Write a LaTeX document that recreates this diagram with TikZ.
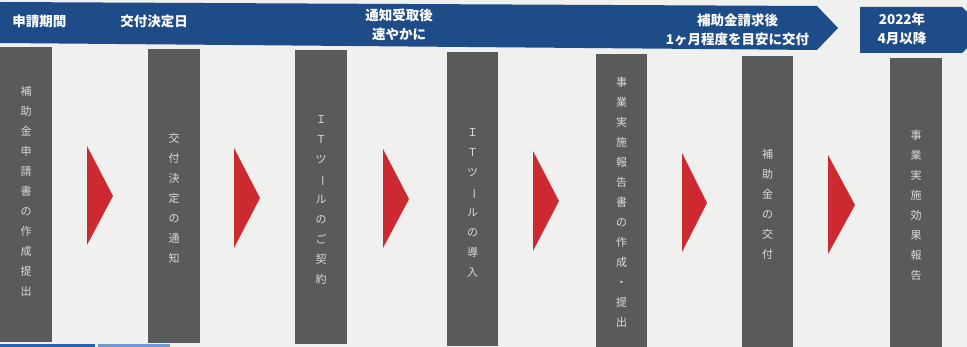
\documentclass[tikz,border=0pt]{standalone}
\usepackage{fontspec}
\newfontfamily\cjk{Noto Sans CJK JP}
\definecolor{bgpaper}{HTML}{F0F0EE}
\definecolor{bannerblue}{HTML}{1E4C88}
\definecolor{colgray}{HTML}{595B5A}
\definecolor{arrowred}{HTML}{CC2A30}
\definecolor{coltext}{HTML}{DADAD8}
\definecolor{stripblue}{HTML}{2A62A8}
\definecolor{stripblue2}{HTML}{6A9AD0}
\newcommand\vbar{\rotatebox[origin=c]{-90}{ー}}
\begin{document}
\begin{tikzpicture}[x=1pt,y=-1pt,
  colbox/.style={fill=colgray,draw=none,minimum width=52pt,inner sep=0pt},
  coltxt/.style={text=coltext,font=\cjk\fontsize{11}{20}\selectfont,align=center,inner sep=0pt},
  headtxt/.style={text=white,font=\cjk\bfseries\fontsize{13.5}{19}\selectfont,align=center,inner sep=0pt},
  redtri/.style={fill=arrowred,draw=none}]
\useasboundingbox (0,0) rectangle (967,347);
\fill[bgpaper] (0,0) rectangle (967,347);
\begin{scope}
\clip (0,0) rectangle (967,347);
% banners
\fill[bannerblue] (0,2) -- (817,6) -- (838,28) -- (817,50) -- (0,43) -- cycle;
\fill[bannerblue] (860,7) -- (962,7) -- (985,30) -- (962,53) -- (860,53) -- cycle;
\node[headtxt] (h1) at (39.5,21) {申請期間};
\node[headtxt] (h2) at (154,21) {交付決定日};
\node[headtxt] (h3) at (399,24.5) {通知受取後\\速やかに};
\node[headtxt] (h4) at (737.5,29.5) {補助金請求後\\1ヶ月程度を目安に交付};
\node[headtxt] (h5) at (902,28.5) {2022年\\4月以降};
% columns
\node[colbox,minimum height=295pt] (c1) at (26,194.5) {};
\node[colbox,minimum height=294pt] (c2) at (174,196) {};
\node[colbox,minimum height=294pt] (c3) at (321,197) {};
\node[colbox,minimum height=294pt,minimum width=51pt] (c4) at (472.5,199.5) {};
\node[colbox,minimum height=294pt,minimum width=51pt] (c5) at (621.5,201.5) {};
\node[colbox,minimum height=294pt,minimum width=51pt] (c6) at (767.5,203.5) {};
\node[colbox,minimum height=294pt] (c7) at (916,205) {};
% column texts
\node[coltxt] (t1) at (26,191) {補\\助\\金\\申\\請\\書\\の\\作\\成\\提\\出};
\node[coltxt] (t2) at (174,198) {交\\付\\決\\定\\の\\通\\知};
\node[coltxt] (t3) at (321,200) {Ｉ\\Ｔ\\ツ\\\vbar\\ル\\の\\ご\\契\\約};
\node[coltxt] (t4) at (472.5,203) {Ｉ\\Ｔ\\ツ\\\vbar\\ル\\の\\導\\入};
\node[coltxt] (t5) at (621.5,202) {事\\業\\実\\施\\報\\告\\書\\の\\作\\成\\・\\提\\出};
\node[coltxt] (t6) at (767.5,204) {補\\助\\金\\の\\交\\付};
\node[coltxt] (t7) at (916,205) {事\\業\\実\\施\\効\\果\\報\\告};
% red arrow heads
\fill[redtri] (87,146) -- (113,196) -- (87,245) -- cycle;
\fill[redtri] (234,148) -- (260,198) -- (234,248) -- cycle;
\fill[redtri] (383,149) -- (409,199) -- (383,248) -- cycle;
\fill[redtri] (533,151) -- (559,201) -- (533,251) -- cycle;
\fill[redtri] (682,153) -- (707,203) -- (682,252) -- cycle;
\fill[redtri] (828,155) -- (855,205) -- (828,254) -- cycle;
% bottom strips
\fill[stripblue] (0,344.5) rectangle (95,347);
\fill[stripblue2] (98,344.5) rectangle (170,347);
\end{scope}
\end{tikzpicture}
\end{document}
